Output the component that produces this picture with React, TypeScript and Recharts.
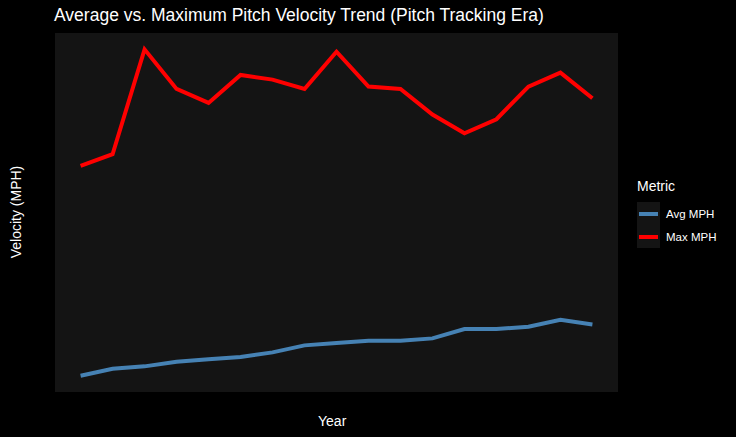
import React from 'react';
import { LineChart, Line, XAxis, YAxis, CartesianGrid } from 'recharts';

const years = [2008, 2009, 2010, 2011, 2012, 2013, 2014, 2015, 2016, 2017, 2018, 2019, 2020, 2021, 2022, 2023, 2024];
const avgMph = [91.8, 92.1, 92.2, 92.4, 92.5, 92.6, 92.8, 93.1, 93.2, 93.3, 93.3, 93.4, 93.8, 93.8, 93.9, 94.2, 94.0];
const maxMph = [100.8, 101.3, 105.8, 104.1, 103.5, 104.7, 104.5, 104.1, 105.7, 104.2, 104.1, 103.0, 102.2, 102.8, 104.2, 104.8, 103.7];
const xTicks = [2008, 2010, 2012, 2014, 2016, 2018, 2020, 2022, 2024];
const yTicks = [92, 94, 96, 98, 100, 102, 104, 106];
const xMinor = [2007, 2009, 2011, 2013, 2015, 2017, 2019, 2021, 2023, 2025];
const yMinor = [91, 93, 95, 97, 99, 101, 103, 105];

const data = years.map((year, i) => ({ year, avg: avgMph[i], max: maxMph[i] }));

const font = 'Arial, "Liberation Sans", sans-serif';
const tickStyle = { fill: '#bdbdbd', fontSize: 12, fontFamily: font };

const App: React.FC = () => {
  return (
    <div style={{ position: 'absolute', left: 0, top: 0, width: 736, height: 437, background: '#000', fontFamily: font }}>
      <div style={{ position: 'absolute', left: 54, top: 5, color: '#fff', fontSize: 17.5 }}>
        Average vs. Maximum Pitch Velocity Trend (Pitch Tracking Era)
      </div>
      <LineChart width={736} height={437} data={data} margin={{ top: 33, right: 118, bottom: 45, left: 55 }}>
        <rect x={55} y={33} width={563} height={359} fill="#141414" />
        <XAxis
          dataKey="year"
          type="number"
          domain={[2007.2, 2024.8]}
          ticks={xTicks}
          allowDataOverflow
          height={0}
          axisLine={false}
          tickLine={{ stroke: '#555' }}
          tickSize={4}
          tick={tickStyle}
          tickMargin={4}
        />
        <YAxis
          type="number"
          domain={[91.1, 106.5]}
          ticks={yTicks}
          allowDataOverflow
          width={0}
          axisLine={false}
          tickLine={{ stroke: '#555' }}
          tickSize={4}
          tick={tickStyle}
          tickMargin={4}
        />
        <CartesianGrid stroke="#000" strokeWidth={0.6} horizontalValues={yMinor} verticalValues={xMinor} />
        <CartesianGrid stroke="#000" strokeWidth={1.3} horizontalValues={yTicks} verticalValues={xTicks} />
        <Line dataKey="avg" stroke="#4682b4" strokeWidth={4} dot={false} isAnimationActive={false} />
        <Line dataKey="max" stroke="#ff0000" strokeWidth={4} dot={false} isAnimationActive={false} />
      </LineChart>
      <div style={{ position: 'absolute', left: 318, top: 413, color: '#fff', fontSize: 14 }}>Year</div>
      <div style={{ position: 'absolute', left: 6, top: 212, color: '#fff', fontSize: 14, transform: 'translate(-50%,-50%) rotate(-90deg)', transformOrigin: 'center', whiteSpace: 'nowrap', marginLeft: 10 }}>
        Velocity (MPH)
      </div>
      <div style={{ position: 'absolute', left: 637, top: 178, color: '#fff', fontSize: 14 }}>Metric</div>
      {[
        { label: 'Avg MPH', color: '#4682b4' },
        { label: 'Max MPH', color: '#ff0000' },
      ].map((item, i) => (
        <div key={item.label} style={{ position: 'absolute', left: 637, top: 202 + i * 23, height: 23, display: 'flex', alignItems: 'center' }}>
          <div style={{ width: 23, height: 23, background: '#141414', display: 'flex', alignItems: 'center', justifyContent: 'center' }}>
            <div style={{ width: 19, height: 4, background: item.color }} />
          </div>
          <span style={{ color: '#fff', fontSize: 11.5, marginLeft: 6 }}>{item.label}</span>
        </div>
      ))}
    </div>
  );
};

export default App;
